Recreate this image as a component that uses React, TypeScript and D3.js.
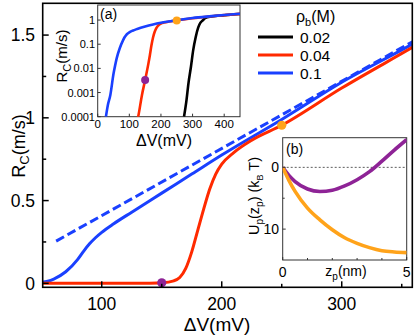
import * as d3 from "d3";
import React from "react";

// rho_b = 0.1 M
const blueV = [26, 32, 40, 50, 55, 60, 70, 80, 85, 90, 95, 100, 110, 125, 150, 175, 200, 250, 300, 360, 400, 450];
const blueR = [1e-4, 3e-4, 8e-4, 0.006, 0.013, 0.026, 0.07, 0.145, 0.195, 0.24, 0.277, 0.308, 0.36, 0.43, 0.545, 0.66, 0.775, 0.99, 1.215, 1.45, 1.62, 1.82];
// rho_b = 0.04 M
const redV = [50, 100, 128, 140, 150, 160, 165, 170, 175, 180, 185, 190, 195, 200, 210, 225, 250, 300, 360, 400, 450];
const redR = [2e-6, 1.5e-5, 1e-4, 8e-4, 0.0033, 0.015, 0.035, 0.09, 0.19, 0.32, 0.45, 0.57, 0.66, 0.72, 0.79, 0.865, 0.955, 1.18, 1.43, 1.6, 1.8];
// rho_b = 0.02 M (inset only)
const blackV = [273, 280, 287, 295, 302, 310, 318, 325, 334, 340, 360, 400, 450];
const blackR = [1e-4, 4e-4, 0.0024, 0.012, 0.057, 0.2, 0.5, 0.78, 1.02, 1.22, 1.4, 1.58, 1.78];
// dashed asymptote
const dashV = [62, 359];
const dashR = [0.255, 1.46];
// marked points
const dotV = [150, 250];
const dotR = [0.0033, 0.955];
const dotColors = ["#8e2396", "#ffa31a"];

// inset (b) potentials
const zp = [0, 0.25, 0.5, 1, 1.5, 2, 2.5, 3, 3.5, 4, 4.5, 5];
const uOrange = [0, 2.1, 3.9, 6.6, 8.5, 10.1, 11.4, 12.3, 13.0, 13.5, 13.7, 13.8];
const uPurple = [0, 1.3, 2.3, 3.5, 3.9, 3.7, 3.0, 2.0, 0.7, -1.0, -2.8, -4.5];

const legendLabels = ["0.02", "0.04", "0.1"];
const legendColors = ["#000000", "#ff2a00", "#1a40ff"];

const mainXTicks = [100, 200, 300];
const mainXMinor = [150, 250, 350];
const mainYTicks = [0, 0.5, 1, 1.5];
const mainYMinor = [0.25, 0.75, 1.25];
const insetAXTicks = [0, 100, 200, 300, 400];
const insetAYTicks = [1, 0.1, 0.01, 0.001, 0.0001];
const insetBXTicks = [0, 5];
const insetBXMinor = [1, 2, 3, 4];
const insetBYTicks = [0, 10];
const insetBYMinor = [5];

const font = "'Liberation Sans', Arial, Helvetica, sans-serif";
const BLUE = "#1a40ff";
const RED = "#ff2a00";

export default function App() {
  // main plot
  const mL = 42.7, mR = 412.3, mT = 3.3, mB = 287.3;
  const x = d3.scaleLinear().domain([50.8, 358.8]).range([mL, mR]);
  const y = d3.scaleLinear().domain([-0.024, 1.692]).range([mB, mT]);

  // inset (a)
  const aL = 97.7, aR = 240, aT = 5, aB = 116.7;
  const xa = d3.scaleLinear().domain([0, 450]).range([aL, aR]);
  const ya = d3.scaleLog().domain([1e-4, 4.2]).range([aB, aT]);

  // inset (b)
  const bL = 282.7, bR = 406.7, bT = 137.7, bB = 260;
  const xb = d3.scaleLinear().domain([0, 5]).range([bL, bR]);
  const yb = d3.scaleLinear().domain([-4.8, 15]).range([bT, bB]);

  const mainLine = (V: number[], R: number[]) =>
    d3.line<number>().x((_, i) => x(V[i])).y((d) => y(d)).curve(d3.curveMonotoneX)(R) || "";
  const insetLine = (V: number[], R: number[]) =>
    d3.line<number>().x((_, i) => xa(V[i])).y((d) => ya(d)).curve(d3.curveMonotoneX)(R) || "";
  const bLine = (U: number[]) =>
    d3.line<number>().x((_, i) => xb(zp[i])).y((d) => yb(d)).curve(d3.curveMonotoneX)(U) || "";

  return (
    <svg width={415} height={335} style={{ position: "absolute", left: 0, top: 0 }} fontFamily={font}>
      <rect width={415} height={335} fill="white" />
      <defs>
        <clipPath id="mainClip">
          <rect x={mL} y={mT} width={mR - mL} height={mB - mT} />
        </clipPath>
        <clipPath id="aClip">
          <rect x={aL} y={aT} width={aR - aL} height={aB - aT} />
        </clipPath>
        <clipPath id="bClip">
          <rect x={bL} y={bT} width={bR - bL} height={bB - bT} />
        </clipPath>
      </defs>

      {/* main curves */}
      <g clipPath="url(#mainClip)" fill="none" strokeWidth={3}>
        <path d={mainLine(dashV, dashR)} stroke={BLUE} strokeDasharray="9,4" />
        <path d={mainLine(blueV, blueR)} stroke={BLUE} />
        <path d={mainLine(redV, redR)} stroke={RED} />
        {dotV.map((v, i) => (
          <circle key={i} cx={x(v)} cy={y(dotR[i])} r={4.6} fill={dotColors[i]} stroke="none" />
        ))}
      </g>

      {/* main frame and ticks */}
      <rect x={mL} y={mT} width={mR - mL} height={mB - mT} fill="none" stroke="black" strokeWidth={1.6} />
      {mainXTicks.map((t) => (
        <g key={t}>
          <line x1={x(t)} x2={x(t)} y1={mB} y2={mB - 6} stroke="black" strokeWidth={1.5} />
          <text x={x(t)} y={310} fontSize={17.5} textAnchor="middle">{t}</text>
        </g>
      ))}
      {mainXMinor.map((t) => (
        <line key={t} x1={x(t)} x2={x(t)} y1={mB} y2={mB - 3.5} stroke="black" strokeWidth={1.5} />
      ))}
      {mainYTicks.map((t) => (
        <g key={t}>
          <line x1={mL} x2={mL + 6} y1={y(t)} y2={y(t)} stroke="black" strokeWidth={1.5} />
          <text x={35} y={y(t) + 6.3} fontSize={17.5} textAnchor="end">{t}</text>
        </g>
      ))}
      {mainYMinor.map((t) => (
        <line key={t} x1={mL} x2={mL + 3.5} y1={y(t)} y2={y(t)} stroke="black" strokeWidth={1.5} />
      ))}
      <text x={217} y={331} fontSize={19} textAnchor="middle">ΔV(mV)</text>
      <text transform="translate(25,146) rotate(-90)" fontSize={18} textAnchor="middle">
        R<tspan fontSize={13} dy={4}>C</tspan><tspan dy={-4}>(m/s)</tspan>
      </text>

      {/* legend */}
      <text x={296} y={22} fontSize={16}>
        ρ<tspan fontSize={11} dy={4}>b</tspan><tspan dy={-4}>(M)</tspan>
      </text>
      {legendLabels.map((l, i) => (
        <g key={l}>
          <line x1={258} x2={293} y1={37 + i * 18} y2={37 + i * 18} stroke={legendColors[i]} strokeWidth={3} />
          <text x={300} y={42.5 + i * 18} fontSize={15.5}>{l}</text>
        </g>
      ))}

      {/* inset (a) */}
      <rect x={aL} y={aT} width={aR - aL} height={aB - aT} fill="white" stroke="#333" strokeWidth={1} />
      <g clipPath="url(#aClip)" fill="none" strokeWidth={2.6}>
        <path d={insetLine(blackV, blackR)} stroke="black" />
        <path d={insetLine(redV, redR)} stroke={RED} />
        <path d={insetLine(blueV, blueR)} stroke={BLUE} />
        {dotV.map((v, i) => (
          <circle key={i} cx={xa(v)} cy={ya(dotR[i])} r={4} fill={dotColors[i]} stroke="none" />
        ))}
      </g>
      {insetAXTicks.map((t) => (
        <g key={t}>
          <line x1={xa(t)} x2={xa(t)} y1={aB} y2={aB - 3} stroke="#333" />
          <text x={xa(t)} y={128} fontSize={11.5} textAnchor="middle">{t}</text>
        </g>
      ))}
      {insetAYTicks.map((t) => (
        <g key={t}>
          <line x1={aL} x2={aL + 3} y1={ya(t)} y2={ya(t)} stroke="#333" />
          <text x={95} y={ya(t) + 4} fontSize={11} textAnchor="end">{String(t)}</text>
        </g>
      ))}
      <text x={100} y={19} fontSize={14}>(a)</text>
      <text x={164} y={146} fontSize={16} textAnchor="middle">ΔV(mV)</text>
      <text transform="translate(67,56) rotate(-90)" fontSize={15} textAnchor="middle">
        R<tspan fontSize={11} dy={3.5}>C</tspan><tspan dy={-3.5}>(m/s)</tspan>
      </text>

      {/* inset (b) */}
      <rect x={bL} y={bT} width={bR - bL} height={bB - bT} fill="white" stroke="#333" strokeWidth={1} />
      <line x1={bL} x2={bR} y1={yb(0)} y2={yb(0)} stroke="#333" strokeWidth={0.8} strokeDasharray="2,2" />
      <g clipPath="url(#bClip)" fill="none" strokeWidth={3.6}>
        <path d={bLine(uPurple)} stroke="#8e2396" />
        <path d={bLine(uOrange)} stroke="#ffa31a" />
      </g>
      {insetBXTicks.map((t) => (
        <g key={t}>
          <line x1={xb(t)} x2={xb(t)} y1={bB} y2={bB - 3} stroke="#333" />
          <text x={xb(t)} y={277} fontSize={14} textAnchor="middle">{t}</text>
        </g>
      ))}
      {insetBXMinor.map((t) => (
        <line key={t} x1={xb(t)} x2={xb(t)} y1={bB} y2={bB - 2} stroke="#333" />
      ))}
      {insetBYTicks.map((t) => (
        <g key={t}>
          <line x1={bL} x2={bL + 3} y1={yb(t)} y2={yb(t)} stroke="#333" />
          <text x={279} y={yb(t) + 5} fontSize={14} textAnchor="end">{t}</text>
        </g>
      ))}
      {insetBYMinor.map((t) => (
        <line key={t} x1={bL} x2={bL + 2} y1={yb(t)} y2={yb(t)} stroke="#333" />
      ))}
      <text x={286} y={154} fontSize={14}>(b)</text>
      <text x={346} y={276} fontSize={14} textAnchor="middle">
        z<tspan fontSize={10} dy={4}>p</tspan><tspan dy={-4}>(nm)</tspan>
      </text>
      <text transform="translate(259,196) rotate(-90)" fontSize={14.5} textAnchor="middle">
        U<tspan fontSize={10} dy={4}>p</tspan><tspan dy={-4}>(z</tspan><tspan fontSize={10} dy={4}>p</tspan>
        <tspan dy={-4}>) (k</tspan><tspan fontSize={9} dy={4}>B</tspan><tspan dy={-4}> T)</tspan>
      </text>
    </svg>
  );
}
